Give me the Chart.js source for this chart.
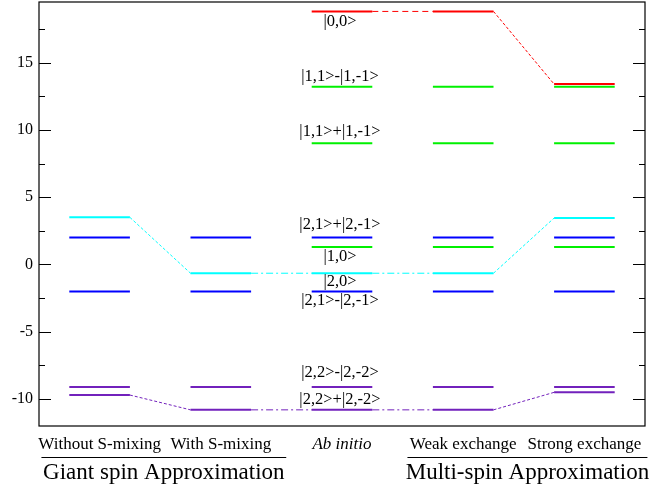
<!DOCTYPE html>
<html>
<head>
<meta charset="utf-8">
<script src="https://cdn.jsdelivr.net/npm/chart.js@4.4.1/dist/chart.umd.min.js"></script>
<style>
html, body { margin: 0; padding: 0; background: #fff; }
</style>
</head>
<body>
<canvas id="myChart" width="669" height="489"></canvas>
<script>
// columns of the diagram
const columns = ["Without S-mixing", "With S-mixing", "Ab initio", "Weak exchange", "Strong exchange"];
const groups = ["Giant spin Approximation", "Multi-spin Approximation"];
const yTicks = [-10, -5, 0, 5, 10, 15];
const yMinorTicks = [-7.5, -2.5, 2.5, 7.5, 12.5, 17.5];

// energy of each state in each column (null = not shown)
const s00   = [null, null, 18.8, 18.8, 13.4];
const s11m  = [null, null, 13.2, 13.2, 13.2];
const s11p  = [null, null, 9.0, 9.0, 9.0];
const s21p  = [2.0, 2.0, 2.0, 2.0, 2.0];
const s10   = [null, null, 1.3, 1.3, 1.3];
const s20   = [3.5, -0.65, -0.65, -0.65, 3.45];
const s21m  = [-2.0, -2.0, -2.0, -2.0, -2.0];
const s22m  = [-9.1, -9.1, -9.1, -9.1, -9.1];
const s22p  = [-9.7, -10.8, -10.8, -10.8, -9.5];

const stateLabels = ["|0,0>", "|1,1>-|1,-1>", "|1,1>+|1,-1>", "|2,1>+|2,-1>", "|1,0>", "|2,0>", "|2,1>-|2,-1>", "|2,2>-|2,-2>", "|2,2>+|2,-2>"];

const RED = "#ff0000", GREEN = "#00f000", BLUE = "#0000ff", CYAN = "#00ffff", PURPLE = "rgb(114,33,188)";

const states = [
  { vals: s00,  color: RED,    link: true },
  { vals: s11m, color: GREEN },
  { vals: s11p, color: GREEN },
  { vals: s21p, color: BLUE },
  { vals: s10,  color: GREEN },
  { vals: s20,  color: CYAN,   link: true },
  { vals: s21m, color: BLUE },
  { vals: s22m, color: PURPLE },
  { vals: s22p, color: PURPLE, link: true }
];

// pixel shift of each state label from its level (ab initio column)
const labelShift = [10, -10, -12, -13, 10, -10, 9, -14, -10];
const labelRef = [s00, s11m, s11p, s21p, s10, s21m, s21m, s22m, s22p];

const half = 0.25;
const datasets = [];

states.forEach(st => {
  st.vals.forEach((v, i) => {
    if (v === null) return;
    datasets.push({
      data: [{ x: i - half, y: v }, { x: i + half, y: v }],
      borderColor: st.color,
      borderWidth: 2,
      showLine: true,
      pointRadius: 0,
      fill: false
    });
  });
  if (st.link) {
    for (let i = 0; i < st.vals.length - 1; i++) {
      const a = st.vals[i], b = st.vals[i + 1];
      if (a === null || b === null) continue;
      const flat = a === b;
      datasets.push({
        data: [{ x: i + half, y: a }, { x: i + 1 - half, y: b }],
        borderColor: st.color,
        borderWidth: 1,
        borderDash: flat ? (st.color === RED ? [6, 4] : [7, 3, 2, 3]) : [3, 2],
        showLine: true,
        pointRadius: 0,
        fill: false
      });
    }
  }
});

const serif = '"Liberation Serif", "Times New Roman", serif';

const decor = {
  id: "decor",
  afterDraw(chart) {
    const { ctx, chartArea: a, scales: { x, y } } = chart;
    ctx.save();
    ctx.strokeStyle = "#000";
    ctx.lineWidth = 1.2;
    ctx.strokeRect(a.left, a.top, a.right - a.left, a.bottom - a.top);

    // inward ticks on both sides
    ctx.lineWidth = 1;
    const tick = (v, len) => {
      const py = Math.round(y.getPixelForValue(v)) + 0.5;
      ctx.beginPath();
      ctx.moveTo(a.left, py); ctx.lineTo(a.left + len, py);
      ctx.moveTo(a.right, py); ctx.lineTo(a.right - len, py);
      ctx.stroke();
    };
    yTicks.forEach(v => tick(v, 12));
    yMinorTicks.forEach(v => tick(v, 6));

    // state labels
    ctx.fillStyle = "#000";
    ctx.font = "16.5px " + serif;
    ctx.textAlign = "center";
    ctx.textBaseline = "middle";
    const cx = x.getPixelForValue(2) - 2;
    stateLabels.forEach((t, k) => {
      ctx.fillText(t, cx, y.getPixelForValue(labelRef[k][2]) + labelShift[k]);
    });

    // group captions
    const lineY = a.bottom + 31.5;
    const spans = [[-0.48, 1.54], [2.54, 4.52]];
    ctx.font = "23px " + serif;
    groups.forEach((g, k) => {
      const x1 = x.getPixelForValue(spans[k][0]);
      const x2 = x.getPixelForValue(spans[k][1]);
      ctx.beginPath();
      ctx.moveTo(x1, lineY); ctx.lineTo(x2, lineY);
      ctx.stroke();
      ctx.fillText(g, (x1 + x2) / 2, a.bottom + 47);
    });
    ctx.restore();
  }
};

const config = {
  type: "scatter",
  data: { datasets },
  options: {
    responsive: false,
    animation: false,
    layout: { padding: { top: 2, right: 24, left: 0, bottom: 0 } },
    plugins: { legend: { display: false }, tooltip: { enabled: false } },
    scales: {
      x: {
        type: "linear",
        min: -0.5,
        max: 4.5,
        grid: { display: false, drawTicks: false },
        border: { display: false },
        afterBuildTicks: s => { s.ticks = columns.map((c, i) => ({ value: i })); },
        afterFit: s => { s.height = 63; s.paddingLeft = 0; s.paddingRight = 0; },
        ticks: {
          autoSkip: false,
          maxRotation: 0,
          padding: 8,
          color: "#000",
          callback: v => columns[v],
          font: c => ({ family: serif, size: 17, style: c.tick && c.tick.value === 2 ? "italic" : "normal" })
        }
      },
      y: {
        min: -12,
        max: 19.5,
        grid: { display: false, drawTicks: false },
        border: { display: false },
        afterBuildTicks: s => { s.ticks = yTicks.map(v => ({ value: v })); },
        afterFit: s => { s.width = 39; s.paddingTop = 0; s.paddingBottom = 0; },
        ticks: {
          padding: 6,
          color: "#000",
          font: { family: serif, size: 16 }
        }
      }
    }
  },
  plugins: [decor]
};

new Chart(document.getElementById("myChart"), config);
</script>
</body>
</html>
